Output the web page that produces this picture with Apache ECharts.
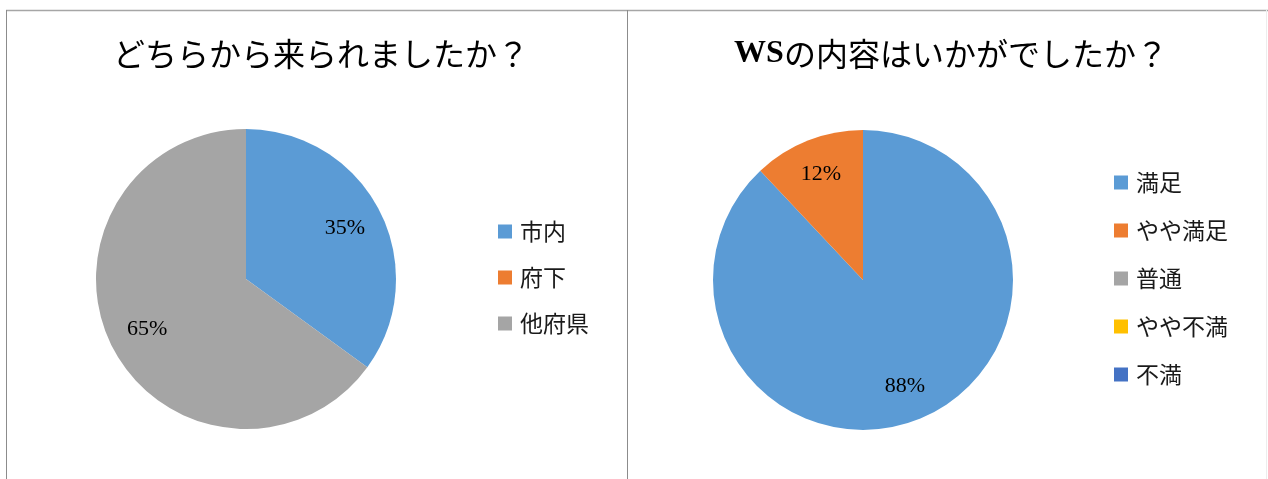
<!DOCTYPE html>
<html>
<head>
<meta charset="utf-8">
<script src="https://cdn.jsdelivr.net/npm/echarts@6/dist/echarts.min.js"></script>
<style>
  html, body { margin: 0; padding: 0; background: #fff; }
  #main { width: 1268px; height: 479px; }
</style>
</head>
<body>
<div id="main"></div>
<script>
// どちらから来られましたか？
const visitNames = ['市内', '府下', '他府県'];
const visitValues = [35, 0, 65];
const visitColors = ['#5B9BD5', '#ED7D31', '#A5A5A5'];

// WSの内容はいかがでしたか？
const wsNames = ['満足', 'やや満足', '普通', 'やや不満', '不満'];
const wsValues = [88, 12, 0, 0, 0];
const wsColors = ['#5B9BD5', '#ED7D31', '#A5A5A5', '#FFC000', '#4472C4'];

const chart = echarts.init(document.getElementById('main'));

function toData(names, values) {
    return names.map(function (n, i) { return { name: n, value: values[i] }; });
}

function pctLabel(p) {
    return p.value > 0 ? Math.round(p.percent) + '%' : '';
}

const legendText = { color: '#1a1a1a', fontSize: 23, fontFamily: 'Noto Sans CJK JP', padding: [0, 0, 0, 3] };
const titleText = {
    color: '#000', fontSize: 32, fontWeight: 'normal', fontFamily: 'Noto Sans CJK JP',
    rich: { b: { color: '#000', fontSize: 32, fontWeight: 'bold', fontFamily: 'Liberation Serif' } }
};
const pctText = { color: '#000', fontSize: 22, fontFamily: 'Liberation Serif' };

// main slice + transparent ring that only carries the labels
function pieSeries(center, names, values, colors, r0) {
    return [{
        type: 'pie',
        center: center,
        radius: [0, 150],
        startAngle: 90,
        color: colors,
        label: { show: false },
        labelLine: { show: false },
        emphasis: { disabled: true },
        data: toData(names, values)
    }, {
        type: 'pie',
        center: center,
        radius: [r0, 150],
        startAngle: 90,
        silent: true,
        itemStyle: { color: 'rgba(0,0,0,0)' },
        label: { show: true, position: 'inside', formatter: pctLabel, textStyle: pctText },
        labelLine: { show: false },
        emphasis: { disabled: true },
        data: toData(names, values)
    }];
}

const option = {
    animation: false,
    title: [
        { text: 'どちらから来られましたか？', left: 316, top: 33, textAlign: 'center', textStyle: titleText },
        { text: '{b|WS}の内容はいかがでしたか？', left: 946, top: 33, textAlign: 'center', textStyle: titleText }
    ],
    legend: [{
        data: visitNames,
        orient: 'vertical',
        left: 498,
        top: 220,
        padding: 0,
        itemWidth: 14,
        itemHeight: 14,
        itemGap: 23,
        icon: 'rect',
        textStyle: legendText
    }, {
        data: wsNames,
        orient: 'vertical',
        left: 1114,
        top: 171,
        padding: 0,
        itemWidth: 14,
        itemHeight: 14,
        itemGap: 25,
        icon: 'rect',
        textStyle: legendText
    }],
    graphic: [
        { type: 'line', shape: { x1: 6, y1: 10.5, x2: 1268, y2: 10.5 }, style: { stroke: '#A6A6A6', lineWidth: 1.5 } },
        { type: 'line', shape: { x1: 6.5, y1: 10, x2: 6.5, y2: 479 }, style: { stroke: '#8C8C8C', lineWidth: 1 } },
        { type: 'line', shape: { x1: 627.5, y1: 10, x2: 627.5, y2: 479 }, style: { stroke: '#8C8C8C', lineWidth: 1 } },
        { type: 'line', shape: { x1: 1266.5, y1: 10, x2: 1266.5, y2: 479 }, style: { stroke: '#EDEDED', lineWidth: 1 } }
    ],
    series: pieSeries([246, 279], visitNames, visitValues, visitColors, 66)
        .concat(pieSeries([863, 280], wsNames, wsValues, wsColors, 72))
};

chart.setOption(option);
window.addEventListener('resize', function () {
    chart.resize();
});
</script>
</body>
</html>
